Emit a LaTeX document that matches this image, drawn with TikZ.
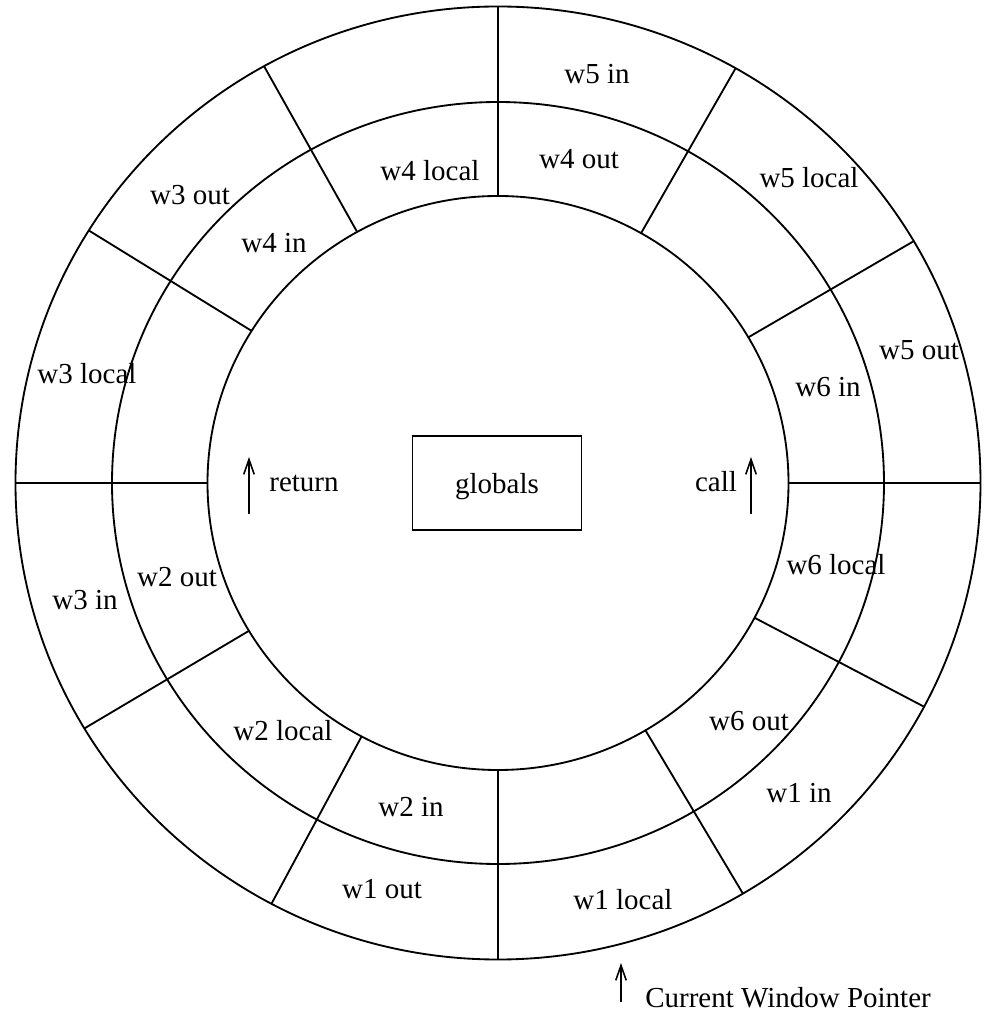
\documentclass[tikz,border=0pt]{standalone}
\usepackage{fontspec}
\setmainfont{Liberation Serif}
\usetikzlibrary{positioning, arrows.meta}

\begin{document}
\begin{tikzpicture}[
    x=0.02cm, y=0.02cm,
    font=\fontsize{16.5}{19}\selectfont,
    >={Straight Barb[length=3mm, width=2.1mm]},
    ring/.style={line width=1.05pt},
    spoke/.style={line width=1.05pt},
    cell/.style={inner sep=0pt, text height=0.68em, text depth=0.2em},
    gbox/.style={
        rectangle, draw=black, line width=1.05pt, text depth=0pt,
        minimum width=3.38cm, minimum height=1.88cm
    },
    ptr/.style={->, line width=0.9pt}
]
\useasboundingbox (-498,-530) rectangle (489,483);

% ============ RINGS ============
\coordinate (c) at (0,0);
\draw[ring] (c) ellipse [x radius=482.5, y radius=476.5];
\draw[ring] (c) ellipse [x radius=386, y radius=381];
\draw[ring] (c) ellipse [x radius=290.5, y radius=287];

% ============ SPOKES ============
\foreach \a in {0, 30.5, 60.5, 90, 119, 148, 180, 211, 242, 270, 300.5, 332}
    \draw[spoke] (\a:290.5 and 287) -- (\a:482.5 and 476.5);

% ============ GLOBALS ============
\node[gbox] (glob) at (-1,0) {globals};

% ============ WINDOW CELLS (inner ring) ============
\node[cell] (w4o) at (81,319) {w4 out};
\node[cell] (w4l) at (-68,307) {w4 local};
\node[cell] (w4i) at (-224,235) {w4 in};
\node[cell] (w6i) at (330,91) {w6 in};
\node[cell] (w6l) at (338,-87) {w6 local};
\node[cell] (w6o) at (251,-243) {w6 out};
\node[cell] (w2o) at (-321,-99) {w2 out};
\node[cell] (w2l) at (-215,-253) {w2 local};
\node[cell] (w2i) at (-87,-329) {w2 in};

% ============ WINDOW CELLS (outer ring) ============
\node[cell] (w5i) at (99,404) {w5 in};
\node[cell] (w5l) at (311,300) {w5 local};
\node[cell] (w5o) at (421,128) {w5 out};
\node[cell] (w3o) at (-308,283) {w3 out};
\node[cell] (w3l) at (-411,104) {w3 local};
\node[cell] (w3i) at (-413,-122) {w3 in};
\node[cell] (w1i) at (301,-315) {w1 in};
\node[cell] (w1l) at (125,-422) {w1 local};
\node[cell] (w1o) at (-116,-411) {w1 out};

% ============ RETURN / CALL ============
\node[cell] (ret) at (-194,-4) {return};
\node[cell] (call) at (218,-4) {call};
\coordinate (retlo) at (-249,-31);
\coordinate (rethi) at (-249,26);
\coordinate (calllo) at (253,-31);
\coordinate (callhi) at (253,26);
\draw[ptr] (retlo) -- (rethi);
\draw[ptr] (calllo) -- (callhi);

% ============ CURRENT WINDOW POINTER ============
\coordinate (cwplo) at (123,-519);
\coordinate (cwphi) at (123,-480);
\draw[ptr] (cwplo) -- (cwphi);
\node[cell, anchor=west] (cwp) at (147,-520) {Current Window Pointer};

\end{tikzpicture}
\end{document}
